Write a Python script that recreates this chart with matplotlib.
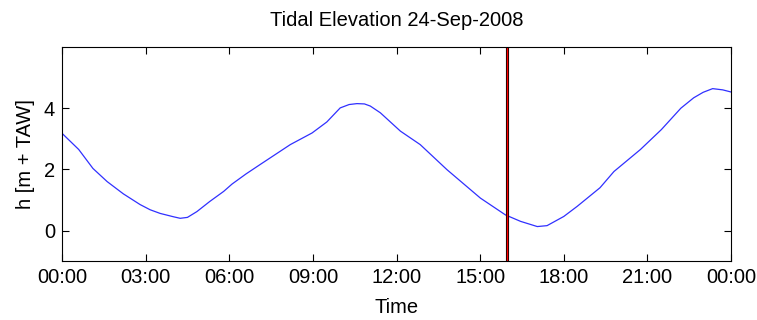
import matplotlib
matplotlib.use("Agg")
import matplotlib.pyplot as plt

# hours since midnight, tidal elevation (m + TAW)
hours = [0.0, 0.6, 1.11, 1.62, 2.2, 2.8, 3.16, 3.52, 4.0, 4.24, 4.5, 4.84, 5.3,
         5.8, 6.1, 6.6, 7.11, 8.19, 8.97, 9.5, 9.98, 10.3, 10.58, 10.85, 11.06,
         11.42, 12.02, 12.14, 12.85, 13.81, 15.01, 15.91, 16.45, 17.05, 17.4,
         18.0, 18.48, 19.3, 19.8, 20.75, 21.5, 22.2, 22.66, 23.0, 23.34, 23.7, 24.0]
level = [3.18, 2.65, 2.03, 1.6, 1.2, 0.85, 0.68, 0.56, 0.45, 0.4, 0.43, 0.62, 0.95,
         1.28, 1.52, 1.85, 2.16, 2.81, 3.19, 3.55, 4.01, 4.12, 4.15, 4.14, 4.07,
         3.85, 3.35, 3.25, 2.81, 1.99, 1.06, 0.51, 0.3, 0.13, 0.16,
         0.46, 0.79, 1.4, 1.93, 2.65, 3.3, 4.0, 4.34, 4.52, 4.64, 4.6, 4.53]
now = 15.95
xticks = [0, 3, 6, 9, 12, 15, 18, 21, 24]
xlabels = ['00:00', '03:00', '06:00', '09:00', '12:00', '15:00', '18:00', '21:00', '00:00']

plt.rcParams['font.family'] = ['Liberation Sans', 'DejaVu Sans']

fig = plt.figure(figsize=(7.57, 3.2), dpi=100)
ax = fig.add_axes([0.0819, 0.184, 0.8838, 0.669])
ax.plot(hours, level, color='#3030ff', lw=0.9)
ax.axvline(now - 0.04, color='black', lw=0.8)
ax.axvline(now + 0.04, color='black', lw=0.8)
ax.axvline(now, color='red', lw=1.0)

ax.set_xlim(0, 24)
ax.set_ylim(-1, 6)
ax.set_xticks(xticks)
ax.set_xticklabels(xlabels)
ax.set_yticks([0, 2, 4])
ax.tick_params(direction='in', top=True, right=True, labelsize=14.5, length=5, pad=5)
for s in ax.spines.values():
    s.set_linewidth(0.8)
ax.set_title('Tidal Elevation 24-Sep-2008', fontsize=14.5, pad=15)
ax.set_xlabel('Time', fontsize=14.5, labelpad=8)
ax.set_ylabel('h [m + TAW]', fontsize=14.5, labelpad=6)

plt.savefig('out.png', dpi=100)
plt.close()
